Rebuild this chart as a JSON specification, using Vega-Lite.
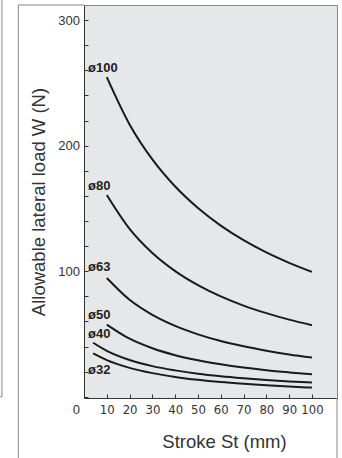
{
  "$schema": "https://vega.github.io/schema/vega-lite/v6.json",
  "width": 253,
  "height": 393,
  "autosize": {"type": "none"},
  "padding": {"left": 84, "top": 5, "right": 5, "bottom": 60},
  "background": "white",
  "config": {
    "view": {"fill": "#e6e7e9", "stroke": "#858585", "strokeWidth": 1},
    "font": "Liberation Sans",
    "axis": {
      "grid": false,
      "domainColor": "#333333",
      "tickColor": "#333333",
      "labelColor": "#333333",
      "titleColor": "#333333",
      "titleFontWeight": "normal",
      "labelFont": "Liberation Sans",
      "titleFont": "Liberation Sans"
    }
  },
  "layer": [
    {
      "data": {
        "values": [
          {"d": "ø100", "st": 10, "w": 254.6},
          {"d": "ø100", "st": 20, "w": 216.9},
          {"d": "ø100", "st": 30, "w": 189.0},
          {"d": "ø100", "st": 40, "w": 167.4},
          {"d": "ø100", "st": 50, "w": 150.3},
          {"d": "ø100", "st": 60, "w": 136.3},
          {"d": "ø100", "st": 70, "w": 124.7},
          {"d": "ø100", "st": 80, "w": 114.9},
          {"d": "ø100", "st": 90, "w": 106.6},
          {"d": "ø100", "st": 100, "w": 99.4},
          {"d": "ø80", "st": 10, "w": 160.7},
          {"d": "ø80", "st": 20, "w": 133.7},
          {"d": "ø80", "st": 30, "w": 114.5},
          {"d": "ø80", "st": 40, "w": 100.1},
          {"d": "ø80", "st": 50, "w": 88.9},
          {"d": "ø80", "st": 60, "w": 79.9},
          {"d": "ø80", "st": 70, "w": 72.6},
          {"d": "ø80", "st": 80, "w": 66.6},
          {"d": "ø80", "st": 90, "w": 61.4},
          {"d": "ø80", "st": 100, "w": 57.0},
          {"d": "ø63", "st": 10, "w": 94.6},
          {"d": "ø63", "st": 20, "w": 77.2},
          {"d": "ø63", "st": 30, "w": 65.2},
          {"d": "ø63", "st": 40, "w": 56.4},
          {"d": "ø63", "st": 50, "w": 49.7},
          {"d": "ø63", "st": 60, "w": 44.4},
          {"d": "ø63", "st": 70, "w": 40.2},
          {"d": "ø63", "st": 80, "w": 36.7},
          {"d": "ø63", "st": 90, "w": 33.7},
          {"d": "ø63", "st": 100, "w": 31.2},
          {"d": "ø50", "st": 10, "w": 57.5},
          {"d": "ø50", "st": 20, "w": 46.2},
          {"d": "ø50", "st": 30, "w": 38.6},
          {"d": "ø50", "st": 40, "w": 33.1},
          {"d": "ø50", "st": 50, "w": 29.0},
          {"d": "ø50", "st": 60, "w": 25.8},
          {"d": "ø50", "st": 70, "w": 23.2},
          {"d": "ø50", "st": 80, "w": 21.1},
          {"d": "ø50", "st": 90, "w": 19.4},
          {"d": "ø50", "st": 100, "w": 17.9},
          {"d": "ø40", "st": 4, "w": 43.0},
          {"d": "ø40", "st": 10, "w": 36.6},
          {"d": "ø40", "st": 20, "w": 29.3},
          {"d": "ø40", "st": 30, "w": 24.4},
          {"d": "ø40", "st": 40, "w": 21.0},
          {"d": "ø40", "st": 50, "w": 18.3},
          {"d": "ø40", "st": 60, "w": 16.3},
          {"d": "ø40", "st": 70, "w": 14.7},
          {"d": "ø40", "st": 80, "w": 13.3},
          {"d": "ø40", "st": 90, "w": 12.2},
          {"d": "ø40", "st": 100, "w": 11.3},
          {"d": "ø32", "st": 4, "w": 34.5},
          {"d": "ø32", "st": 10, "w": 29.2},
          {"d": "ø32", "st": 20, "w": 23.0},
          {"d": "ø32", "st": 30, "w": 18.8},
          {"d": "ø32", "st": 40, "w": 15.8},
          {"d": "ø32", "st": 50, "w": 13.5},
          {"d": "ø32", "st": 60, "w": 11.7},
          {"d": "ø32", "st": 70, "w": 10.3},
          {"d": "ø32", "st": 80, "w": 9.1},
          {"d": "ø32", "st": 90, "w": 8.1},
          {"d": "ø32", "st": 100, "w": 7.3}
        ]
      },
      "mark": {"type": "line", "interpolate": "monotone", "strokeWidth": 2, "color": "#1a1a1a"},
      "encoding": {
        "x": {
          "field": "st", "type": "quantitative",
          "scale": {"domain": [0, 111], "nice": false, "zero": false},
          "axis": {
            "title": "Stroke St (mm)",
            "values": [10, 20, 30, 40, 50, 60, 70, 80, 90, 100],
            "tickCount": 100,
            "tickSize": -4,
            "labelPadding": 9,
            "labelOverlap": false,
            "labelBound": false,
            "labelFlush": false,
            "labelFont": "DejaVu Sans Condensed",
            "labelFontSize": 13,
            "titleFontSize": 18.5,
            "titleX": 140,
            "titlePadding": 16
          }
        },
        "y": {
          "field": "w", "type": "quantitative",
          "scale": {"domain": [-1, 312], "nice": false, "zero": false},
          "axis": {
            "title": "Allowable lateral load W (N)",
            "values": [0, 20, 40, 60, 80, 100, 120, 140, 160, 180, 200, 220, 240, 260, 280, 300],
            "tickCount": 100,
            "labelExpr": "datum.value % 100 == 0 ? datum.label : ''",
            "labelOffset": {"condition": {"test": "datum.value == 0", "value": 13}, "value": 0},
            "labelOverlap": false,
            "labelBound": false,
            "labelFlush": false,
            "tickSize": -4,
            "labelPadding": 8.5,
            "labelFontSize": 13,
            "titleFontSize": 18.5,
            "titlePadding": 9
          }
        },
        "detail": {"field": "d"}
      }
    },
    {
      "data": {
        "values": [
          {"t": "ø100", "lx": 1.8, "ly": 261.7},
          {"t": "ø80", "lx": 1.8, "ly": 167.9},
          {"t": "ø63", "lx": 1.8, "ly": 103},
          {"t": "ø50", "lx": 1.8, "ly": 65.4},
          {"t": "ø40", "lx": 1.8, "ly": 49.6},
          {"t": "ø32", "lx": 1.8, "ly": 21.3}
        ]
      },
      "mark": {"type": "text", "align": "left", "baseline": "middle", "fontWeight": "bold", "fontSize": 13, "color": "#222222", "font": "Liberation Sans"},
      "encoding": {
        "x": {"field": "lx", "type": "quantitative"},
        "y": {"field": "ly", "type": "quantitative"},
        "text": {"field": "t"}
      }
    },
    {
      "data": {"values": [{}]},
      "mark": {"type": "rule", "color": "#858585", "strokeWidth": 1},
      "encoding": {"x": {"datum": -28.8}, "y": {"datum": 312}, "y2": {"datum": -60}}
    },
    {
      "data": {"values": [{}]},
      "mark": {"type": "rule", "color": "#858585", "strokeWidth": 1},
      "encoding": {"x": {"datum": -28.8}, "x2": {"datum": 0}, "y": {"datum": 312}}
    },
    {
      "data": {"values": [{}]},
      "mark": {"type": "rule", "color": "#858585", "strokeWidth": 1},
      "encoding": {"x": {"datum": 111}, "y": {"datum": -1}, "y2": {"datum": -60}}
    },
    {
      "data": {"values": [{}]},
      "mark": {"type": "rule", "color": "#858585", "strokeWidth": 1},
      "encoding": {"x": {"datum": -36}, "y": {"datum": 330}, "y2": {"datum": 0}}
    },
    {
      "data": {"values": [{}]},
      "mark": {"type": "rule", "color": "#858585", "strokeWidth": 1},
      "encoding": {"x": {"datum": -38}, "x2": {"datum": -36}, "y": {"datum": 0}}
    }
  ]
}
